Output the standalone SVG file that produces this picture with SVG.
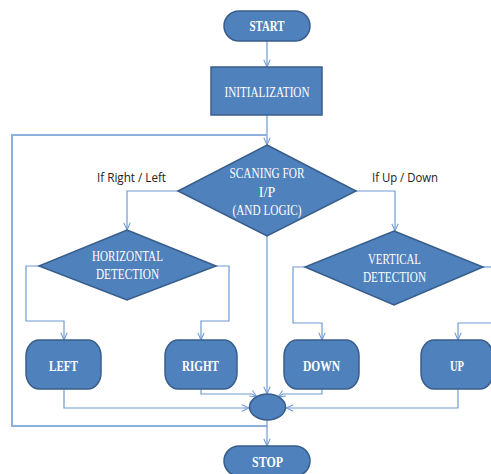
<svg xmlns="http://www.w3.org/2000/svg" width="491" height="474" viewBox="0 0 491 474">
<defs>
<style>
.n{fill:#4F81BD;stroke:#385D8A;stroke-width:1.5}
.t{font-family:"Liberation Serif",serif;fill:#fff;text-anchor:middle}
.b{font-weight:bold;font-size:14px}
.r{font-size:14px}
.c{fill:none;stroke:#6F9AD3;stroke-width:1.2}
.lbl{font-family:"Open Sans","Liberation Sans",sans-serif;font-size:13px;fill:#222;text-anchor:middle}
</style>
<marker id="a" viewBox="0 0 10 10" refX="10" refY="5" markerWidth="8" markerHeight="8" orient="auto" markerUnits="userSpaceOnUse">
<path d="M1,1 L10,5 L1,9" fill="none" stroke="#6F9AD3" stroke-width="1.3"/>
</marker>
</defs>
<g id="connectors">
<path class="c" d="M267,41 V67" marker-end="url(#a)"/>
<path class="c" d="M267,115 V145" marker-end="url(#a)"/>
<path class="c" style="stroke:#8FB0DE;stroke-width:2" d="M267,426 H12 V135 H267"/>
<path class="c" d="M178,191 H127 V230" marker-end="url(#a)"/>
<path class="c" d="M355,191 H395 V231" marker-end="url(#a)"/>
<path class="c" d="M39,266 H26 V321 H64 V340" marker-end="url(#a)"/>
<path class="c" d="M216,266 H229 V321 H201 V340" marker-end="url(#a)"/>
<path class="c" d="M305,267 H293 V323 H322 V340" marker-end="url(#a)"/>
<path class="c" d="M483,267 H491"/>
<path class="c" d="M491,323 H458 V340" marker-end="url(#a)"/>
<path class="c" d="M267,236 V394" marker-end="url(#a)"/>
<path class="c" d="M64,389 V408 H249" marker-end="url(#a)"/>
<path class="c" d="M201,389 V394 H252 L257,397" marker-end="url(#a)"/>
<path class="c" d="M322,389 V394 H283 L278,397" marker-end="url(#a)"/>
<path class="c" d="M458,389 V408 H286" marker-end="url(#a)"/>
<path class="c" d="M267,420 V446" marker-end="url(#a)"/>
<text class="lbl" x="131.5" y="182" textLength="69" lengthAdjust="spacingAndGlyphs">If Right / Left</text>
<text class="lbl" x="405" y="182" textLength="66" lengthAdjust="spacingAndGlyphs">If Up / Down</text>
</g>
<g id="start">
<rect class="n" x="224" y="11" width="86" height="30" rx="15"/>
<text class="t b" x="267" y="31" textLength="35" lengthAdjust="spacingAndGlyphs">START</text>
</g>
<g id="init">
<rect class="n" x="211" y="67" width="111" height="48"/>
<text class="t r" x="267" y="97" textLength="85" lengthAdjust="spacingAndGlyphs">INITIALIZATION</text>
</g>
<g id="scan">
<polygon class="n" points="267,145 356,191 267,236 178,191"/>
<text class="t r" x="267" y="178" textLength="75" lengthAdjust="spacingAndGlyphs">SCANING FOR</text>
<text class="t r" x="267" y="197">I/P</text>
<text class="t r" x="267" y="215" textLength="69" lengthAdjust="spacingAndGlyphs">(AND LOGIC)</text>
</g>
<g id="horizontal">
<polygon class="n" points="127,230 216,266 127,300 39,266"/>
<text class="t r" x="127.5" y="261" textLength="71" lengthAdjust="spacingAndGlyphs">HORIZONTAL</text>
<text class="t r" x="127.5" y="279" textLength="63" lengthAdjust="spacingAndGlyphs">DETECTION</text>
</g>
<g id="vertical">
<polygon class="n" points="394,231 483,267 394,305 305,267"/>
<text class="t r" x="394.5" y="264" textLength="53" lengthAdjust="spacingAndGlyphs">VERTICAL</text>
<text class="t r" x="394.5" y="282" textLength="63" lengthAdjust="spacingAndGlyphs">DETECTION</text>
</g>
<g id="left">
<rect class="n" x="26" y="340" width="75" height="49" rx="13" ry="16"/>
<text class="t b" x="63.5" y="371" textLength="29" lengthAdjust="spacingAndGlyphs">LEFT</text>
</g>
<g id="right">
<rect class="n" x="165" y="340" width="72" height="49" rx="13" ry="16"/>
<text class="t b" x="200.5" y="371" textLength="37" lengthAdjust="spacingAndGlyphs">RIGHT</text>
</g>
<g id="down">
<rect class="n" x="284" y="340" width="75" height="49" rx="13" ry="16"/>
<text class="t b" x="321.5" y="371" textLength="37" lengthAdjust="spacingAndGlyphs">DOWN</text>
</g>
<g id="up">
<rect class="n" x="421" y="340" width="72" height="49" rx="13" ry="16"/>
<text class="t b" x="457" y="371" textLength="14" lengthAdjust="spacingAndGlyphs">UP</text>
</g>
<g id="merge">
<ellipse class="n" cx="267.5" cy="407" rx="18" ry="13"/>
</g>
<g id="stop">
<rect class="n" x="224" y="446" width="86" height="30" rx="15"/>
<text class="t b" x="267.5" y="467" textLength="31" lengthAdjust="spacingAndGlyphs">STOP</text>
</g>
</svg>
